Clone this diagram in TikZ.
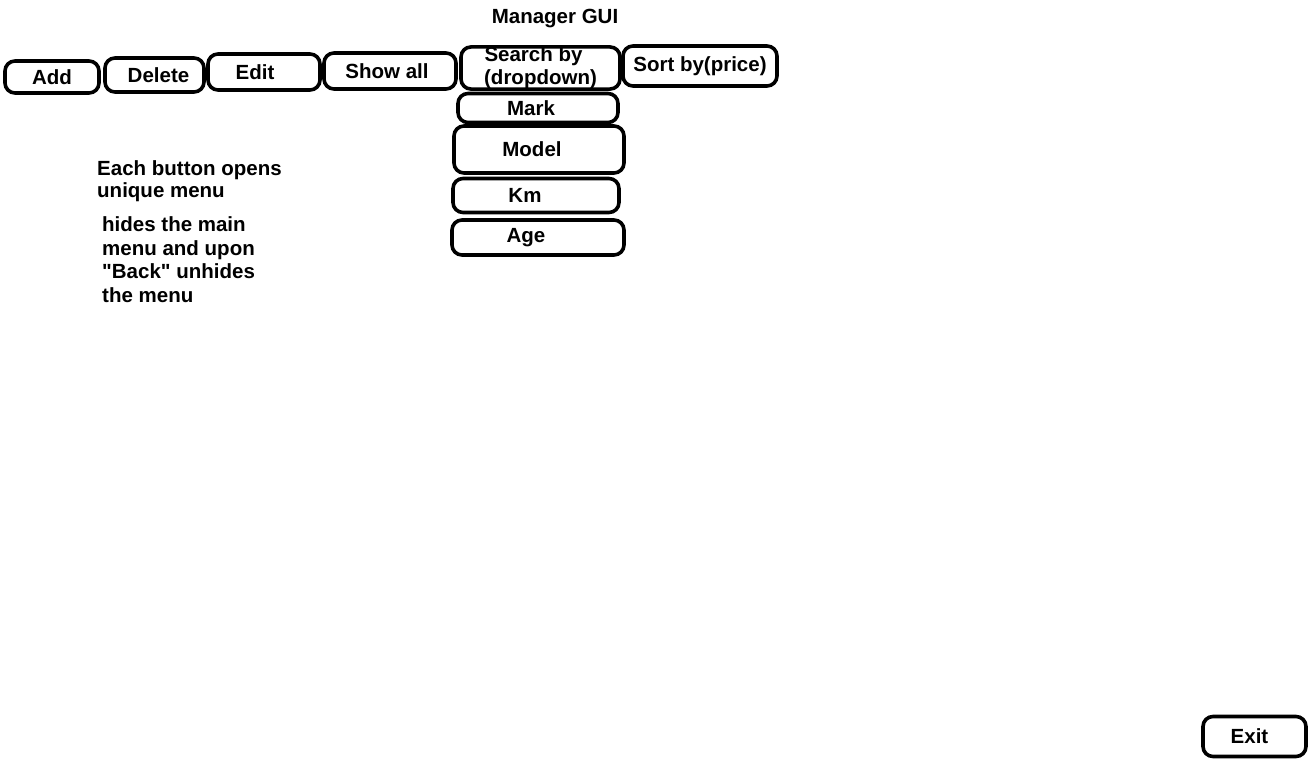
\documentclass[tikz,border=0pt]{standalone}
\usepackage{fontspec}
\setmainfont{Liberation Sans}[Ligatures=TeXOff]
\begin{document}
\begin{tikzpicture}[x=1pt,y=-1pt,
  btn/.style={draw=black,line width=3.6pt,rounded corners=10pt,fill=white,inner sep=0pt,font=\bfseries\fontsize{20.5}{23}\selectfont,align=center},
  note/.style={inner sep=0pt,anchor=base west,align=left}]
\useasboundingbox (0,0) rectangle (1310,760);
\node[font=\bfseries\fontsize{20.5}{22}\selectfont] (title) at (555,18.5) {Manager GUI};
\node[btn,minimum width=94pt,minimum height=32pt] (add) at (52,77) {Add};
\node[btn,minimum width=99pt,minimum height=34pt] (delete) at (154.5,75) {\hspace*{8pt}Delete};
\node[btn,minimum width=112pt,minimum height=36pt] (edit) at (264,72) {Edit\hspace*{18pt}};
\node[btn,minimum width=132pt,minimum height=36pt] (showall) at (390,71) {Show all\hspace*{6pt}};
\node[btn,minimum width=159pt,minimum height=40pt] (search) at (540.5,68) {Search by\hspace*{14pt}\\(dropdown)};
\node[btn,minimum width=154pt,minimum height=40pt] (sort) at (700,66) {Sort by(price)};
\node[btn,minimum width=160pt,minimum height=29pt] (mark) at (538,108) {Mark\hspace*{14pt}};
\node[btn,minimum width=170pt,minimum height=47pt] (model) at (539,149.5) {Model\hspace*{14pt}};
\node[btn,minimum width=166pt,minimum height=34pt] (km) at (536,195.5) {Km\hspace*{22pt}};
\node[btn,minimum width=172pt,minimum height=35pt] (age) at (538,237.5) {Age\hspace*{24pt}};
\node[btn,minimum width=103pt,minimum height=40pt] (exit) at (1254.5,736.5) {Exit\hspace*{10pt}};
\node[note,font=\bfseries\fontsize{20.5}{22}\selectfont] (note1) at (97,197) {Each button opens\\unique menu};
\node[note,font=\bfseries\fontsize{20.5}{23.5}\selectfont] (note2) at (102,302) {hides the main\\menu and upon\\"Back" unhides\\the menu};
\end{tikzpicture}
\end{document}
